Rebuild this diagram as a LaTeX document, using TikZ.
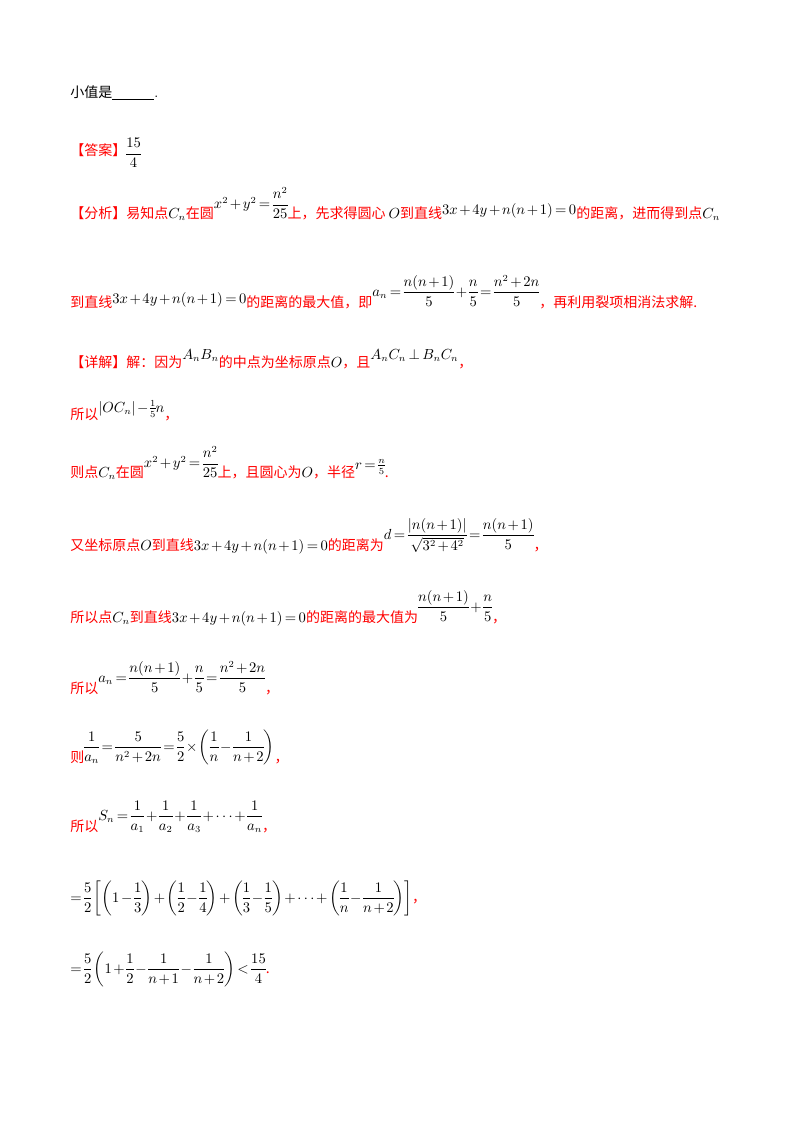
\documentclass[tikz,border=0pt]{standalone}
\usepackage{fontspec}
\usepackage{amsmath}
\newfontfamily\cjk{Noto Sans CJK SC}
\definecolor{ansred}{HTML}{FF0000}
\newcommand{\Z}[1]{{\cjk\color{ansred}#1}}
\newcommand{\K}[1]{{\cjk #1}}
\newcommand{\U}[2][6pt]{\raisebox{#1}{$#2$}}
\medmuskip=2mu plus 1mu
\thickmuskip=3mu plus 1mu
\nulldelimiterspace=0pt
\tikzset{ln/.style={anchor=base west,inner sep=0pt,font=\fontsize{10.5}{12}\selectfont}}
\begin{document}
\begin{tikzpicture}[x=0.75pt,y=-0.75pt]
\useasboundingbox (0,0) rectangle (800,1132);
\node[ln] (l1) at (70,97) {\K{小值是}\underline{\hspace{3em}}.};
\node[ln] (l2) at (70,155) {\Z{【答案】}\U[-2pt]{\dfrac{15}{4}}};
\node[ln] (l3) at (70,218) {\Z{【分析】易知点}$C_n$\Z{在圆}\U[7pt]{x^2+y^2=\dfrac{n^2}{25}}\Z{上，先求得圆心 }$O$\Z{ 到直线}\U[3pt]{3x+4y+n(n+1)=0}\Z{的距离，进而得到点}$C_n$};
\node[ln] (l4) at (70,307) {\Z{到直线}\U[3pt]{3x+4y+n(n+1)=0}\Z{的距离的最大值，即}\U[8pt]{a_n=\dfrac{n(n+1)}{5}+\dfrac{n}{5}=\dfrac{n^2+2n}{5}}\Z{，再利用裂项相消法求解.}};
\node[ln] (l5) at (70,367) {\Z{【详解】解：因为}\U[6pt]{A_nB_n}\Z{的中点为坐标原点}$O$\Z{，且}\U[6pt]{A_nC_n\perp B_nC_n}\Z{，}};
\node[ln] (l6) at (70,419) {\Z{所以}\U[5pt]{|OC_n|-\tfrac{1}{5}n}\Z{，}};
\node[ln] (l7) at (70,477) {\Z{则点}$C_n$\Z{在圆}\U[7pt]{x^2+y^2=\dfrac{n^2}{25}}\Z{上，且圆心为}$O$\Z{，半径}\U[6pt]{r=\tfrac{n}{5}}\Z{.}};
\node[ln] (l8) at (70,550) {\Z{又坐标原点}$O$\Z{到直线}$3x+4y+n(n+1)=0$\Z{的距离为}\U[8pt]{d=\dfrac{|n(n+1)|}{\sqrt{3^2+4^2}}=\dfrac{n(n+1)}{5}}\Z{，}};
\node[ln] (l9) at (70,622) {\Z{所以点}$C_n$\Z{到直线}$3x+4y+n(n+1)=0$\Z{的距离的最大值为}\U[8pt]{\dfrac{n(n+1)}{5}+\dfrac{n}{5}}\Z{，}};
\node[ln] (l10) at (70,693) {\Z{所以}\U[8pt]{a_n=\dfrac{n(n+1)}{5}+\dfrac{n}{5}=\dfrac{n^2+2n}{5}}\Z{，}};
\node[ln] (l11) at (70,762) {\Z{则}\U[8pt]{\dfrac{1}{a_n}=\dfrac{5}{n^2+2n}=\dfrac{5}{2}\times\left(\dfrac{1}{n}-\dfrac{1}{n+2}\right)}\Z{，}};
\node[ln] (l12) at (70,831) {\Z{所以}\U[8pt]{S_n=\dfrac{1}{a_1}+\dfrac{1}{a_2}+\dfrac{1}{a_3}+\cdots+\dfrac{1}{a_n}}\Z{，}};
\node[ln] (l13) at (70,902) {$=\dfrac{5}{2}\left[\left(1-\dfrac{1}{3}\right)+\left(\dfrac{1}{2}-\dfrac{1}{4}\right)+\left(\dfrac{1}{3}-\dfrac{1}{5}\right)+\cdots+\left(\dfrac{1}{n}-\dfrac{1}{n+2}\right)\right]$\Z{，}};
\node[ln] (l14) at (70,973) {$=\dfrac{5}{2}\left(1+\dfrac{1}{2}-\dfrac{1}{n+1}-\dfrac{1}{n+2}\right)<\dfrac{15}{4}$\Z{.}};
\end{tikzpicture}
\end{document}
